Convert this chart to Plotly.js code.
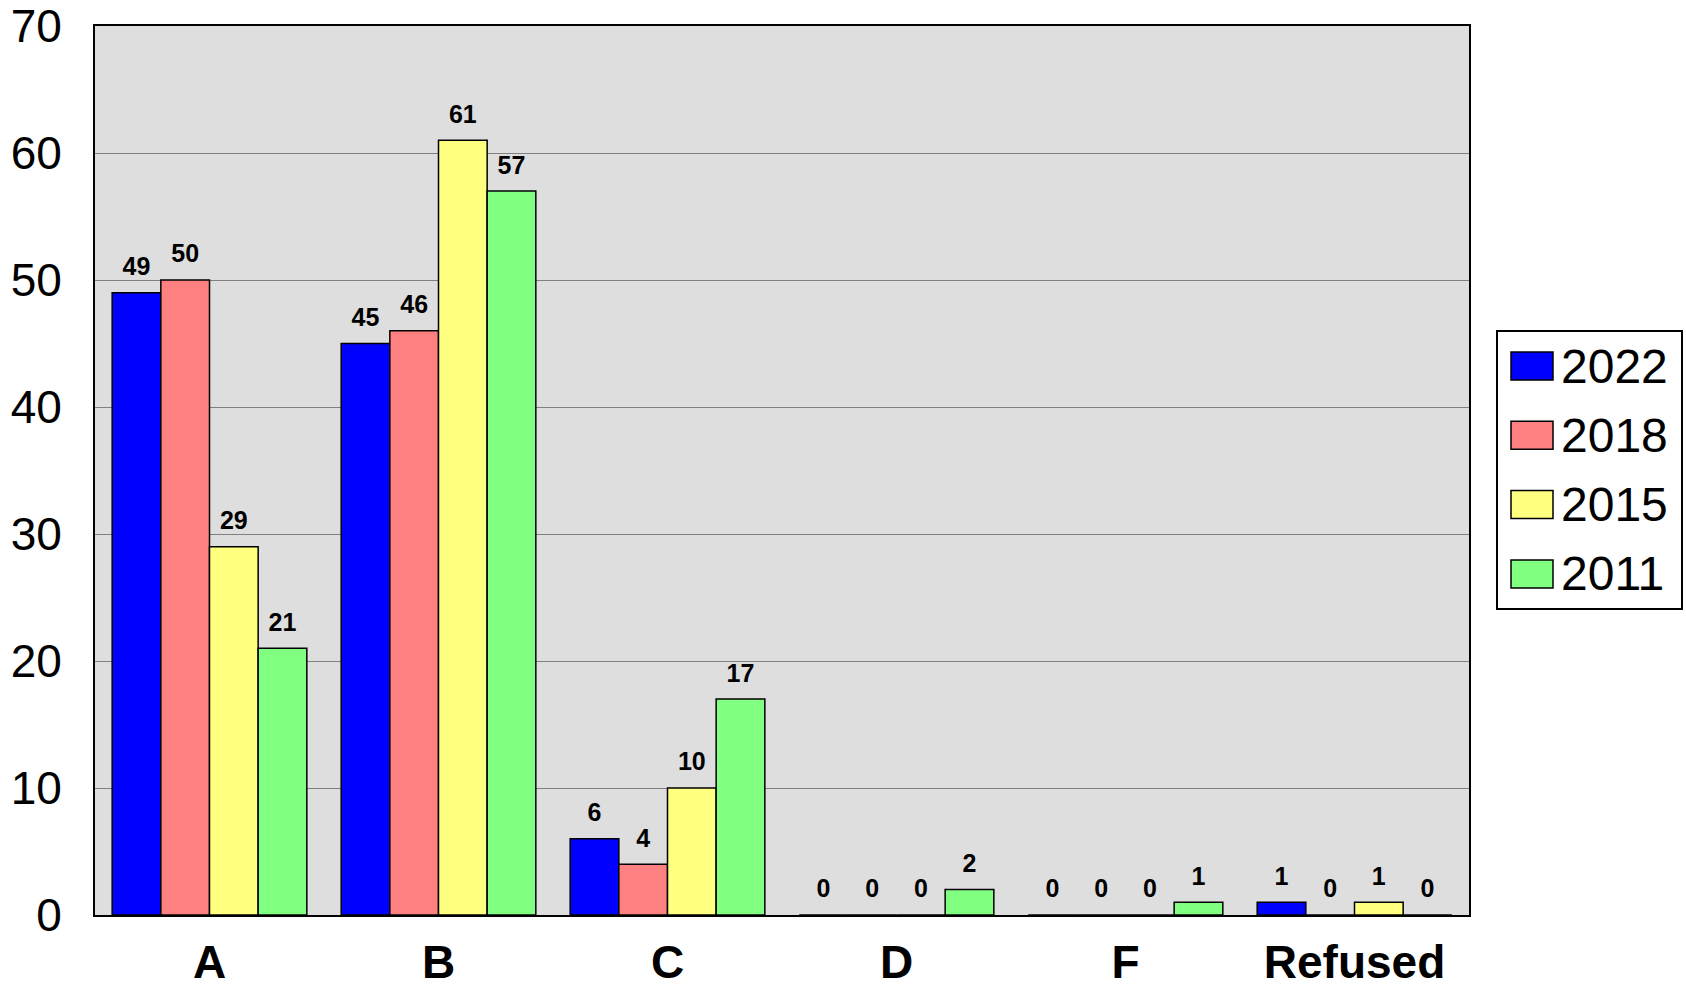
<!DOCTYPE html>
<html>
<head>
<meta charset="utf-8">
<script src="https://cdn.plot.ly/plotly-3.0.1.min.js"></script>
<style>html,body{margin:0;padding:0;background:#fff;}#chart{width:1686px;height:985px;}</style>
</head>
<body>
<div id="chart"></div>
<script>
const categories = ["A", "B", "C", "D", "F", "Refused"];
const seriesNames = ["2022", "2018", "2015", "2011"];
const v2022 = [49, 45, 6, 0, 0, 1];
const v2018 = [50, 46, 4, 0, 0, 0];
const v2015 = [29, 61, 10, 0, 0, 1];
const v2011 = [21, 57, 17, 2, 1, 0];
const yTicks = [0, 10, 20, 30, 40, 50, 60, 70];
const colors = ["#0000FF", "#FF8080", "#FFFF80", "#80FF80"];

const FONT = "Liberation Sans, Arial, sans-serif";
const values = [v2022, v2018, v2015, v2011];
const LABEL_PAD = 0.75; // gap (in axis units) between bar top and its value label

const traces = [];
values.forEach((vals, i) => {
  traces.push({
    type: "bar",
    name: seriesNames[i],
    x: categories,
    y: vals,
    offsetgroup: String(i),
    marker: {color: colors[i], line: {color: "#000000", width: 1.5}},
    hoverinfo: "skip"
  });
});
// invisible spacer bars that carry the value labels a little above each bar
values.forEach((vals, i) => {
  traces.push({
    type: "bar",
    name: seriesNames[i] + " labels",
    x: categories,
    y: vals.map(() => LABEL_PAD),
    base: vals,
    offsetgroup: String(i),
    marker: {color: "rgba(0,0,0,0)", line: {width: 0}},
    text: vals.map(String),
    texttemplate: "%{text}",
    textposition: "outside",
    cliponaxis: false,
    constraintext: "none",
    textfont: {family: FONT, size: 25, color: "#000000", weight: "bold"},
    hoverinfo: "skip",
    showlegend: false
  });
});

// Plot area in pixels
const W = 1686, H = 985;
const L = 95, R = 1469, T = 26, B = 915;
const px = x => (x - L) / (R - L);
const py = y => (B - y) / (B - T);

const shapes = [];
const annotations = [];
// legend box
shapes.push({type: "rect", xref: "paper", yref: "paper",
  x0: px(1497), x1: px(1682), y0: py(609), y1: py(331),
  line: {color: "#000000", width: 2}, fillcolor: "#FFFFFF"});
seriesNames.forEach((nm, i) => {
  const cy = 366 + i * 69.3;
  shapes.push({type: "rect", xref: "paper", yref: "paper",
    x0: px(1511), x1: px(1553), y0: py(cy + 14), y1: py(cy - 14),
    line: {color: "#000000", width: 1.5}, fillcolor: colors[i]});
  annotations.push({xref: "paper", yref: "paper", x: px(1559), y: py(cy),
    xanchor: "left", yanchor: "middle", showarrow: false, text: nm,
    font: {family: FONT, size: 48, color: "#000000"}});
});

const layout = {
  width: W, height: H,
  margin: {l: L, r: W - R, t: T, b: H - B, pad: 0},
  paper_bgcolor: "#FFFFFF",
  plot_bgcolor: "#DEDEDE",
  barmode: "group",
  bargap: 0.15,
  bargroupgap: 0,
  showlegend: false,
  xaxis: {
    type: "category",
    tickfont: {family: FONT, size: 46, color: "#000000", weight: "bold"},
    showline: true, linecolor: "#000000", linewidth: 2, mirror: true,
    ticks: "", showgrid: false, zeroline: false,
    ticklabelstandoff: 6
  },
  yaxis: {
    range: [0, 70],
    tickvals: yTicks,
    ticktext: yTicks.map(String),
    tickfont: {family: FONT, size: 46, color: "#000000"},
    showline: true, linecolor: "#000000", linewidth: 2, mirror: true,
    showgrid: true, gridcolor: "#808080", gridwidth: 1,
    zeroline: false, ticks: "",
    ticklabelstandoff: 22
  },
  shapes: shapes,
  annotations: annotations,
  font: {family: FONT}
};

Plotly.newPlot("chart", traces, layout, {displayModeBar: false, staticPlot: true});
</script>
</body>
</html>
